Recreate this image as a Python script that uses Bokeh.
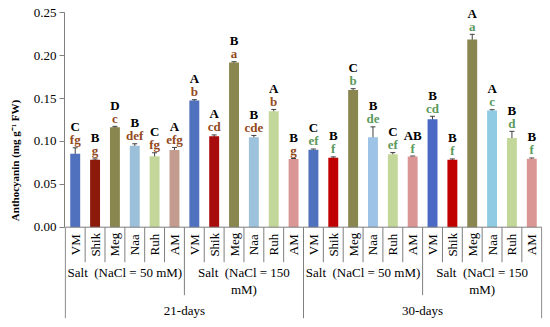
import math
from bokeh.plotting import figure
from bokeh.models import Range1d, FixedTicker, ColumnDataSource, Whisker, TeeHead, NumeralTickFormatter
from bokeh.embed import file_html
from bokeh.resources import INLINE
from bokeh.core.properties import value

# ---------------- data ----------------
plants = ["VM", "Shik", "Meg", "Naa", "Ruh", "AM"]
days = ["21-days", "30-days"]
salts = ["Salt\u00a0 (NaCl = 50 mM)", "Salt\u00a0 (NaCl = 150\nmM)"]

d21_s50 = [0.0856, 0.0786, 0.1166, 0.0950, 0.0828, 0.0900]
d21_s150 = [0.1477, 0.1061, 0.1920, 0.1050, 0.1353, 0.0795]
d30_s50 = [0.0902, 0.0810, 0.1600, 0.1050, 0.0850, 0.0824]
d30_s150 = [0.1260, 0.0786, 0.2189, 0.1360, 0.1040, 0.0797]

err21_s50 = [0.0070, 0.0010, 0.0010, 0.0023, 0.0040, 0.0030]
err21_s150 = [0.0010, 0.0015, 0.0010, 0.0020, 0.0020, 0.0006]
err30_s50 = [0.0010, 0.0010, 0.0015, 0.0120, 0.0020, 0.0006]
err30_s150 = [0.0033, 0.0010, 0.0060, 0.0010, 0.0078, 0.0010]

upper21_s50 = ["C", "B", "D", "B", "C", "A"]
upper21_s150 = ["A", "A", "B", "B", "A", "B"]
upper30_s50 = ["C", "B", "C", "B", "C", "AB"]
upper30_s150 = ["B", "B", "A", "A", "B", "B"]

lower21_s50 = ["fg", "g", "c", "def", "fg", "efg"]
lower21_s150 = ["b", "cd", "a", "cde", "b", "g"]
lower30_s50 = ["ef", "f", "b", "de", "ef", "f"]
lower30_s150 = ["cd", "f", "a", "c", "d", "f"]

y_ticks = [0.00, 0.05, 0.10, 0.15, 0.20, 0.25]

# ---------------- styles ----------------
bar_colors = [
    ["#4f71be", "#8b1a0a", "#8a8650", "#9dc0da", "#c4d79b", "#c39b8f"],
    ["#4f71be", "#a80c0c", "#8a8650", "#9cc2dc", "#c4d79b", "#d99694"],
    ["#4f71be", "#c00000", "#8a8650", "#9dc3e6", "#c4d79b", "#d99694"],
    ["#4a69c4", "#c00000", "#8a8650", "#8fcbe3", "#c4d79b", "#d99694"],
]
lower_colors = ["#934a1c", "#934a1c", "#5b9a5b", "#5b9a5b"]
FONT = "Liberation Serif"
GRAY = "#7f7f7f"

PPU = 857.6          # pixels per data unit on y
TOP_PAD = 12.3       # px above 0.25
BELOW = 93           # px below zero
CELL = 19.86         # px per category
X0, X1 = -0.04, 24.04

means = d21_s50 + d21_s150 + d30_s50 + d30_s150
errs = err21_s50 + err21_s150 + err30_s50 + err30_s150
uppers = upper21_s50 + upper21_s150 + upper30_s50 + upper30_s150
lowers = lower21_s50 + lower21_s150 + lower30_s50 + lower30_s150
names = plants * 4
colors = [c for grp in bar_colors for c in grp]
lcolors = [lower_colors[g] for g in range(4) for _ in plants]
n = len(means)
xs = [i + 0.5 for i in range(n)]

src = ColumnDataSource(dict(
    x=xs, top=means, lo=[m - e for m, e in zip(means, errs)],
    hi=[m + e for m, e in zip(means, errs)], color=colors,
    up=uppers, low=lowers, lcolor=lcolors, name=names,
))

frame_h = round(0.25 * PPU + TOP_PAD + BELOW)
y_end = 0.25 + TOP_PAD / PPU
y_start = -(frame_h - TOP_PAD - 0.25 * PPU) / PPU

p = figure(frame_width=round((X1 - X0) * CELL), frame_height=frame_h,
           x_range=Range1d(X0, X1), y_range=Range1d(y_start, y_end),
           x_axis_location=None, output_backend="svg", toolbar_location=None,
           min_border_left=64, min_border_right=4, min_border_top=0, min_border_bottom=4)
p.outline_line_color = None
p.xgrid.visible = False
p.ygrid.visible = False
p.background_fill_color = "white"

# bars
p.vbar(x="x", top="top", bottom=0, width=0.5, fill_color="color", line_color=None, source=src)

# error bars
wh = Whisker(source=src, base="x", lower="lo", upper="hi", line_color="#404040", line_width=1,
             upper_head=TeeHead(size=5, line_color="#404040", line_width=1),
             lower_head=TeeHead(size=5, line_color="#404040", line_width=1))
p.add_layout(wh)

# significance letters
p.text(x="x", y="hi", text="low", source=src, text_color="lcolor", text_font=value(FONT),
       text_font_style="bold", text_font_size="13px", text_align="center",
       text_baseline="alphabetic", y_offset=-8)
p.text(x="x", y="hi", text="up", source=src, text_color="black", text_font=value(FONT),
       text_font_style="bold", text_font_size="13px", text_align="center",
       text_baseline="alphabetic", y_offset=-21)

# x baseline
p.segment(x0=[0], x1=[n], y0=[0], y1=[0], line_color=GRAY, line_width=1)

# separators of the multi-level category axis
sx, sy1 = [], []
for k in range(n + 1):
    if k % 12 == 0:
        depth = 91
    elif k % 6 == 0:
        depth = 68
    else:
        depth = 35
    sx.append(k)
    sy1.append(-depth / PPU)
p.segment(x0=sx, x1=sx, y0=[0] * len(sx), y1=sy1, line_color=GRAY, line_width=1)

# plant labels (rotated)
p.text(x=xs, y=[0] * n, text=names, angle=math.pi / 2, y_offset=17.5,
       text_font=value(FONT), text_font_size="13px", text_color="black",
       text_align="center", text_baseline="middle")

# salt labels
salt_x = [3 + 6 * g for g in range(4)]
salt_t = salts * 2
p.text(x=salt_x, y=[0] * 4, text=salt_t, y_offset=38, text_font=value(FONT),
       text_font_size="13px", text_color="black", text_align="center",
       text_baseline="top", text_line_height=1.1)

# day labels
p.text(x=[6, 18], y=[0, 0], text=days, y_offset=83, text_font=value(FONT),
       text_font_size="13px", text_color="black", text_align="center", text_baseline="middle")

# y axis
ya = p.yaxis[0]
ya.bounds = (0, 0.25)
ya.ticker = FixedTicker(ticks=y_ticks)
ya.formatter = NumeralTickFormatter(format="0.00")
ya.minor_tick_line_color = None
ya.major_tick_out = 5
ya.major_tick_in = 0
ya.major_label_standoff = 3
ya.axis_line_color = GRAY
ya.major_tick_line_color = GRAY
ya.major_label_text_font = FONT
ya.major_label_text_font_size = "13px"
ya.major_label_text_color = "black"
ya.axis_label = "Anthocyanin (mg g\u207b\u00b9 FW)"
ya.axis_label_text_font = FONT
ya.axis_label_text_font_style = "bold"
ya.axis_label_text_font_size = "11px"
ya.axis_label_text_color = "black"
ya.axis_label_standoff = 10

open("out.html", "w").write(file_html(p, INLINE))
